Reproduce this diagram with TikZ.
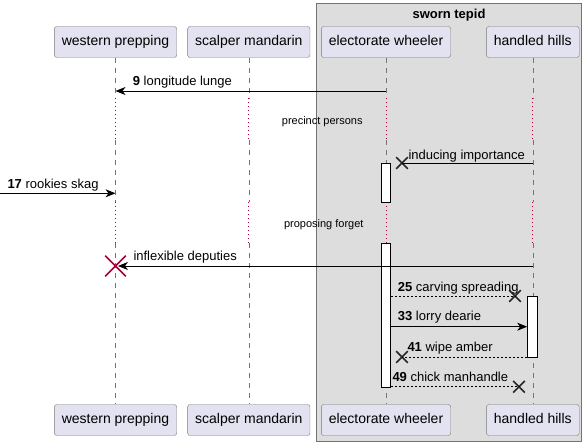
\documentclass[tikz,border=0pt]{standalone}
\usepackage{fontspec}
\setmainfont{Liberation Sans}
\usetikzlibrary{arrows.meta,shapes.misc}

\definecolor{partfill}{HTML}{E2E2F0}
\definecolor{partdraw}{HTML}{7A7A7A}
\definecolor{groupfill}{HTML}{DDDDDD}
\definecolor{delayred}{HTML}{A80036}

\tikzset{%
  participant/.style={
    draw=partdraw,
    fill=partfill,
    rounded corners=2.5pt,
    minimum height=31pt,
    inner xsep=7.5pt,
    text height=10pt,
    text depth=3pt,
    font=\fontsize{14}{16}\selectfont
  },
  lifeline/.style={
    draw=black!55,
    line width=0.6pt,
    dash pattern=on 5pt off 5pt
  },
  delayline/.style={
    draw=delayred,
    line width=1pt,
    dash pattern=on 1pt off 3pt
  },
  activation/.style={
    draw=black,
    fill=white,
    line width=0.8pt,
    minimum width=9.5pt,
    inner sep=0pt,
    anchor=north
  },
  msg/.style={
    line width=0.9pt,
    -{Stealth[length=10pt,width=8pt,inset=3pt]}
  },
  plainmsg/.style={line width=0.9pt},
  replymsg/.style={plainmsg, dash pattern=on 2pt off 2pt},
  lostmark/.style={
    cross out,
    draw=black!85,
    line width=1.6pt,
    minimum size=10pt,
    inner sep=0pt
  },
  destroymark/.style={
    cross out,
    draw=delayred,
    line width=1.6pt,
    minimum size=19pt,
    inner sep=0pt
  },
  msglabel/.style={
    anchor=base west,
    inner sep=0pt,
    font=\fontsize{13}{15}\selectfont
  },
  delaylabel/.style={
    anchor=base west,
    inner sep=0pt,
    font=\fontsize{11}{13}\selectfont
  },
}

\begin{document}
\begin{tikzpicture}[x=1pt, y=-1pt]

\useasboundingbox (0,0) rectangle (588,446);

% group
\draw [draw=black!55, fill=groupfill] (316.5,3.5) rectangle (581.5,441.5);
\node [font=\fontsize{13}{15}\selectfont\bfseries, anchor=base, inner sep=0pt]
  (group-title) at (449,18.5) {sworn tepid};

% participants
\foreach \n/\x/\t in {wp/115.5/western prepping, sm/248.8/scalper mandarin,
                      ew/386/electorate wheeler, hh/532.8/handled hills}
{
  \node [participant] (\n-top) at (\x,42) {\t};
  \node [participant] (\n-bot) at (\x,420) {\t};
}

\coordinate (delay1-s) at (0,98);
\coordinate (delay1-e) at (0,140);
\coordinate (delay2-s) at (0,202);
\coordinate (delay2-e) at (0,243);

\foreach \n in {wp,sm,ew,hh}
{
  \draw [lifeline] (\n-top.south) -- (\n-top.south |- delay1-s);
  \draw [delayline] (\n-top.south |- delay1-s) -- (\n-top.south |- delay1-e);
  \draw [lifeline] (\n-top.south |- delay1-e) -- (\n-top.south |- delay2-s);
  \draw [delayline] (\n-top.south |- delay2-s) -- (\n-top.south |- delay2-e);
  \draw [lifeline] (\n-top.south |- delay2-e) -- (\n-bot.north);
}

% activations
\node [activation, minimum height=39pt] (act-1) at (385.8,163) {};
\node [activation, minimum height=144pt] (act-2) at (385.8,243) {};
\node [activation, minimum height=61pt] (act-3) at (532.3,296) {};

% messages
\draw [msg] (ew-top.south |- 0,91) -- (wp-top.south |- 0,91);
\node [msglabel] (lbl-9) at (132.7,86) {\textbf{9} longitude lunge};

\node [delaylabel] (lbl-delay1) at (281.7,124.5) {precinct persons};

\node [lostmark] (lost-1) at (402,163) {};
\draw [plainmsg] (hh-top.south |- lost-1) -- (lost-1.center);
\node [msglabel] (lbl-induce) at (408.3,159.3) {inducing importance};

\coordinate (left-in) at (0,193.3);
\draw [msg] (left-in) -- (wp-top.south |- left-in);
\node [msglabel] (lbl-17) at (7.3,188.7) {\textbf{17} rookies skag};

\node [delaylabel] (lbl-delay2) at (283.8,227) {proposing forget};

\node [destroymark] (kill-wp) at (115.5,266) {};
\draw [msg, shorten >=2.5pt] (hh-top.south |- kill-wp) -- (kill-wp.center);
\node [msglabel] (lbl-inflex) at (133.3,260.7) {inflexible deputies};

\node [lostmark] (lost-2) at (515,296) {};
\draw [replymsg] (act-2.east |- lost-2) -- (lost-2.center);
\node [msglabel] (lbl-25) at (397.7,291) {\textbf{25} carving spreading};

\draw [msg] (act-2.east |- 0,326.7) -- (act-3.west |- 0,326.7);
\node [msglabel] (lbl-33) at (397.7,320.7) {\textbf{33} lorry dearie};

\node [lostmark] (lost-3) at (402,357) {};
\draw [replymsg] (act-3.west |- lost-3) -- (lost-3.center);
\node [msglabel] (lbl-41) at (407.3,351.7) {\textbf{41} wipe amber};

\node [lostmark] (lost-4) at (519,386.7) {};
\draw [replymsg] (act-2.east |- lost-4) -- (lost-4.center);
\node [msglabel] (lbl-49) at (392.3,381.7) {\textbf{49} chick manhandle};

\end{tikzpicture}
\end{document}
